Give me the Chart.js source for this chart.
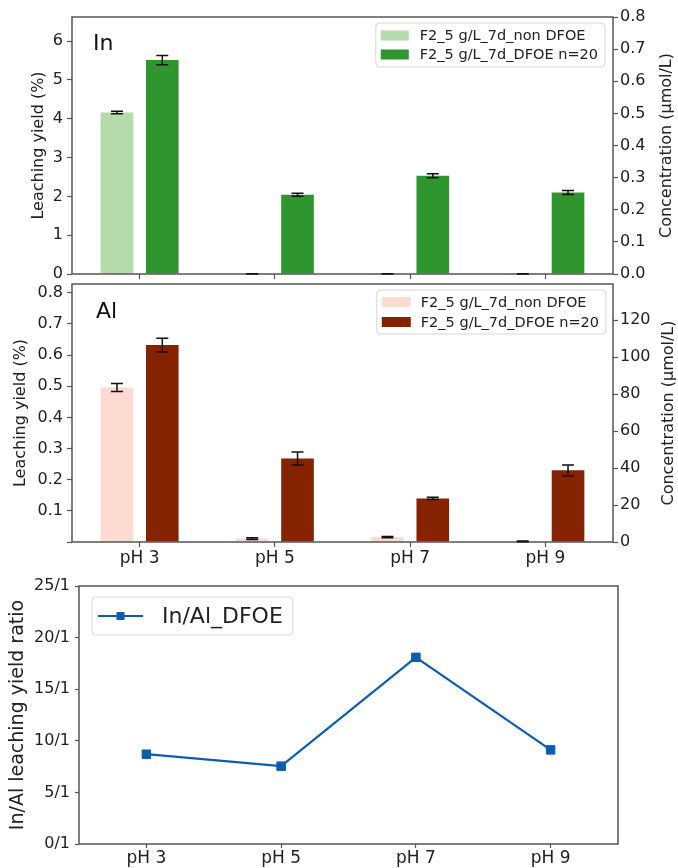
<!DOCTYPE html>
<html>
<head>
<meta charset="utf-8">
<title>In / Al leaching</title>
<script src="https://cdn.jsdelivr.net/npm/chart.js@4.4.1/dist/chart.umd.min.js"></script>
<style>
  html, body { margin: 0; padding: 0; background: #fff; }
  #wrap { position: relative; width: 678px; height: 868px; overflow: hidden; }
  canvas { position: absolute; left: 0; }
  #inChart { top: 0; }
  #alChart { top: 280px; }
  #ratioChart { top: 570px; }
</style>
</head>
<body>
<div id="wrap">
  <canvas id="inChart" width="678" height="290"></canvas>
  <canvas id="alChart" width="678" height="290"></canvas>
  <canvas id="ratioChart" width="678" height="298"></canvas>
</div>
<script>
const phLabels = ['pH 3', 'pH 5', 'pH 7', 'pH 9']
const seriesNames = ['F2_5 g/L_7d_non DFOE', 'F2_5 g/L_7d_DFOE n=20']

// In, leaching yield (%)
const inNonDfoe = [4.16, 0.003, 0.003, 0.003]
const inNonDfoeErr = [0.03, 0.003, 0.003, 0.003]
const inDfoe = [5.51, 2.04, 2.53, 2.10]
const inDfoeErr = [0.12, 0.04, 0.05, 0.05]

// Al, leaching yield (%)
const alNonDfoe = [0.496, 0.011, 0.016, 0.002]
const alNonDfoeErr = [0.013, 0.003, 0.002, 0.001]
const alDfoe = [0.632, 0.268, 0.140, 0.230]
const alDfoeErr = [0.022, 0.021, 0.004, 0.017]

// In/Al ratio (x/1)
const ratioName = 'In/Al_DFOE'
const ratioDfoe = [8.70, 7.54, 18.09, 9.12]

const inYieldMax = 6.62
const inConcMax = 0.8
const alYieldMax = 0.828
const alConcMax = 139.5
const ratioMax = 25

const axisGrey = '#555'
const textColor = '#222'
const blue = '#0c5dad'

Chart.defaults.font.family = '"DejaVu Sans", sans-serif'
Chart.defaults.color = textColor

// pin the axis boxes so the plot frames land where the reference has them
const fixedWidth = w => s => { s.width = w; s.paddingTop = 0; s.paddingBottom = 0 }
const fixedHeight = h => s => { s.height = h; s.paddingLeft = 0; s.paddingRight = 0 }

const tickGrid = {
  display: true,
  drawOnChartArea: false,
  drawTicks: true,
  tickLength: 5,
  tickColor: axisGrey,
  tickWidth: 1.2,
  offset: false
}

const framePlugin = {
  id: 'frame',
  afterDatasetsDraw(chart) {
    const { ctx, chartArea: a } = chart
    ctx.save()
    ctx.strokeStyle = axisGrey
    ctx.lineWidth = 1.5
    ctx.strokeRect(a.left, a.top, a.right - a.left, a.bottom - a.top)
    ctx.restore()
  }
}

const errorBarPlugin = {
  id: 'errorBars',
  afterDatasetsDraw(chart) {
    const ctx = chart.ctx
    ctx.save()
    ctx.strokeStyle = '#111'
    ctx.lineWidth = 1.5
    chart.data.datasets.forEach((ds, di) => {
      if (!ds.errorBars) return
      const meta = chart.getDatasetMeta(di)
      const yScale = chart.scales[meta.yAxisID]
      meta.data.forEach((bar, i) => {
        const v = ds.data[i]
        const e = ds.errorBars[i]
        const top = yScale.getPixelForValue(v + e)
        const bot = yScale.getPixelForValue(Math.max(0, v - e))
        ctx.beginPath()
        ctx.moveTo(bar.x, top); ctx.lineTo(bar.x, bot)
        ctx.moveTo(bar.x - 6, top); ctx.lineTo(bar.x + 6, top)
        ctx.moveTo(bar.x - 6, bot); ctx.lineTo(bar.x + 6, bot)
        ctx.stroke()
      })
    })
    ctx.restore()
  }
}

// right-hand axis title reads bottom-to-top, as in matplotlib twinx
const sideTitlePlugin = {
  id: 'sideTitle',
  afterDraw(chart, args, opts) {
    if (!opts.text) return
    const { ctx, chartArea: a } = chart
    ctx.save()
    ctx.translate(opts.x, (a.top + a.bottom) / 2)
    ctx.rotate(-Math.PI / 2)
    ctx.font = opts.size + 'px "DejaVu Sans"'
    ctx.fillStyle = textColor
    ctx.textAlign = 'center'
    ctx.textBaseline = 'middle'
    ctx.fillText(opts.text, 0, 0)
    ctx.restore()
  }
}

// legend box drawn inside the plot, like matplotlib does
const insideLegendPlugin = {
  id: 'insideLegend',
  afterDraw(chart, args, opts) {
    const { ctx, chartArea: a } = chart
    const items = chart.data.datasets
    ctx.save()
    ctx.font = opts.size + 'px "DejaVu Sans"'
    const textW = Math.max(...items.map(d => ctx.measureText(d.label).width))
    const w = opts.padL + opts.patchW + opts.gap + textW + opts.padR
    const h = opts.padY * 2 + opts.rowH * items.length
    const x0 = opts.anchor === 'right' ? a.right - opts.dx - w : a.left + opts.dx
    const y0 = a.top + opts.dy

    ctx.beginPath()
    ctx.roundRect(x0, y0, w, h, 4)
    ctx.fillStyle = 'rgba(255,255,255,0.85)'
    ctx.fill()
    ctx.strokeStyle = '#d6d6d6'
    ctx.lineWidth = 1
    ctx.stroke()

    items.forEach((d, i) => {
      const cy = y0 + opts.padY + opts.rowH * (i + 0.5)
      const px = x0 + opts.padL
      if (opts.line) {
        ctx.strokeStyle = d.borderColor
        ctx.lineWidth = 2.2
        ctx.beginPath()
        ctx.moveTo(px, cy); ctx.lineTo(px + opts.patchW, cy)
        ctx.stroke()
        ctx.fillStyle = d.backgroundColor
        ctx.fillRect(px + opts.patchW / 2 - 4, cy - 4, 8, 8)
      } else {
        ctx.fillStyle = d.backgroundColor
        ctx.fillRect(px, cy - opts.patchH / 2, opts.patchW, opts.patchH)
      }
      ctx.fillStyle = textColor
      ctx.textBaseline = 'middle'
      ctx.textAlign = 'left'
      ctx.fillText(d.label, px + opts.patchW + opts.gap, cy + 1)
    })

    if (opts.panelLabel) {
      ctx.font = '22px "DejaVu Sans"'
      ctx.textBaseline = 'alphabetic'
      ctx.fillStyle = '#111'
      ctx.fillText(opts.panelLabel, a.left + opts.panelX, a.top + opts.panelY)
    }
    ctx.restore()
  }
}

function barPanel(canvasId, cfg) {
  return new Chart(document.getElementById(canvasId), {
    type: 'bar',
    data: {
      labels: phLabels,
      datasets: [
        {
          label: seriesNames[0],
          data: cfg.light,
          errorBars: cfg.lightErr,
          backgroundColor: cfg.lightColor,
          yAxisID: 'y',
          categoryPercentage: 0.67,
          barPercentage: 0.72
        },
        {
          label: seriesNames[1],
          data: cfg.dark,
          errorBars: cfg.darkErr,
          backgroundColor: cfg.darkColor,
          yAxisID: 'y',
          categoryPercentage: 0.67,
          barPercentage: 0.72
        }
      ]
    },
    options: {
      responsive: false,
      animation: false,
      layout: { padding: { top: cfg.padTop, left: 0, right: 0, bottom: 0 } },
      plugins: {
        legend: { display: false },
        tooltip: { enabled: false },
        insideLegend: cfg.legend,
        sideTitle: { text: 'Concentration (µmol/L)', size: 16, x: cfg.sideTitleX }
      },
      scales: {
        x: {
          offset: true,
          border: { display: false },
          grid: tickGrid,
          ticks: {
            display: cfg.showX,
            padding: 1,
            font: { size: 17 },
            color: textColor,
            callback: (v, i) => cfg.showX ? phLabels[i] : ''
          },
          afterFit: fixedHeight(cfg.xHeight)
        },
        y: {
          position: 'left',
          min: 0,
          max: cfg.yMax,
          border: { display: false },
          grid: tickGrid,
          ticks: {
            stepSize: cfg.yStep,
            includeBounds: false,
            padding: 4,
            font: { size: 16 },
            callback: cfg.yFormat
          },
          title: {
            display: true,
            text: 'Leaching yield (%)',
            font: { size: 16 },
            padding: { top: cfg.yTitlePad, bottom: 0 }
          },
          afterFit: fixedWidth(72)
        },
        y1: {
          position: 'right',
          min: 0,
          max: cfg.y1Max,
          border: { display: false },
          grid: tickGrid,
          ticks: {
            stepSize: cfg.y1Step,
            includeBounds: false,
            padding: 2,
            font: { size: 16 },
            callback: cfg.y1Format
          },
          afterFit: fixedWidth(65)
        }
      }
    },
    plugins: [framePlugin, errorBarPlugin, insideLegendPlugin, sideTitlePlugin]
  })
}

barPanel('inChart', {
  light: inNonDfoe, lightErr: inNonDfoeErr, lightColor: '#b5dbaa',
  dark: inDfoe, darkErr: inDfoeErr, darkColor: '#2f962f',
  padTop: 17, xHeight: 16, showX: false,
  yMax: inYieldMax, yStep: 1, yFormat: v => v, yTitlePad: 29,
  y1Max: inConcMax, y1Step: 0.1, y1Format: v => v.toFixed(1),
  sideTitleX: 667,
  legend: {
    anchor: 'right', dx: 8, dy: 6, size: 14.5,
    padL: 5, padR: 7, padY: 3, rowH: 19,
    patchW: 28, patchH: 10, gap: 11,
    panelLabel: 'In', panelX: 21, panelY: 33
  }
})

barPanel('alChart', {
  light: alNonDfoe, lightErr: alNonDfoeErr, lightColor: '#fddbd0',
  dark: alDfoe, darkErr: alDfoeErr, darkColor: '#852200',
  padTop: 4, xHeight: 28, showX: true,
  yMax: alYieldMax, yStep: 0.1, yFormat: v => v < 0.05 ? '' : v.toFixed(1), yTitlePad: 11,
  y1Max: alConcMax, y1Step: 20, y1Format: v => v,
  sideTitleX: 669,
  legend: {
    anchor: 'right', dx: 7, dy: 6, size: 14.5,
    padL: 5, padR: 7, padY: 2, rowH: 20,
    patchW: 29, patchH: 10, gap: 10,
    panelLabel: 'Al', panelX: 24, panelY: 34
  }
})

new Chart(document.getElementById('ratioChart'), {
  type: 'line',
  data: {
    labels: phLabels,
    datasets: [{
      label: ratioName,
      data: ratioDfoe,
      borderColor: blue,
      backgroundColor: blue,
      borderWidth: 2.2,
      pointStyle: 'rect',
      pointRadius: 6,
      pointBorderWidth: 1,
      tension: 0
    }]
  },
  options: {
    responsive: false,
    animation: false,
    layout: { padding: { top: 16, left: 0, right: 60, bottom: 0 } },
    plugins: {
      legend: { display: false },
      tooltip: { enabled: false },
      insideLegend: {
        anchor: 'left', dx: 13, dy: 11, size: 22, line: true,
        padL: 6, padR: 10, padY: 4, rowH: 30,
        patchW: 45, patchH: 0, gap: 19
      }
    },
    scales: {
      x: {
        offset: true,
        border: { display: false },
        grid: Object.assign({}, tickGrid, { tickLength: 4 }),
        ticks: { padding: 0, font: { size: 17 } },
        afterFit: fixedHeight(24)
      },
      y: {
        min: 0,
        max: ratioMax,
        border: { display: false },
        grid: Object.assign({}, tickGrid, { tickLength: 4 }),
        ticks: {
          stepSize: 5,
          padding: 5,
          font: { size: 16 },
          callback: v => v + '/1'
        },
        title: {
          display: true,
          text: 'In/Al leaching yield ratio',
          font: { size: 19 },
          padding: { top: 7, bottom: 0 }
        },
        afterFit: fixedWidth(79)
      }
    }
  },
  plugins: [framePlugin, insideLegendPlugin]
})
</script>
</body>
</html>
